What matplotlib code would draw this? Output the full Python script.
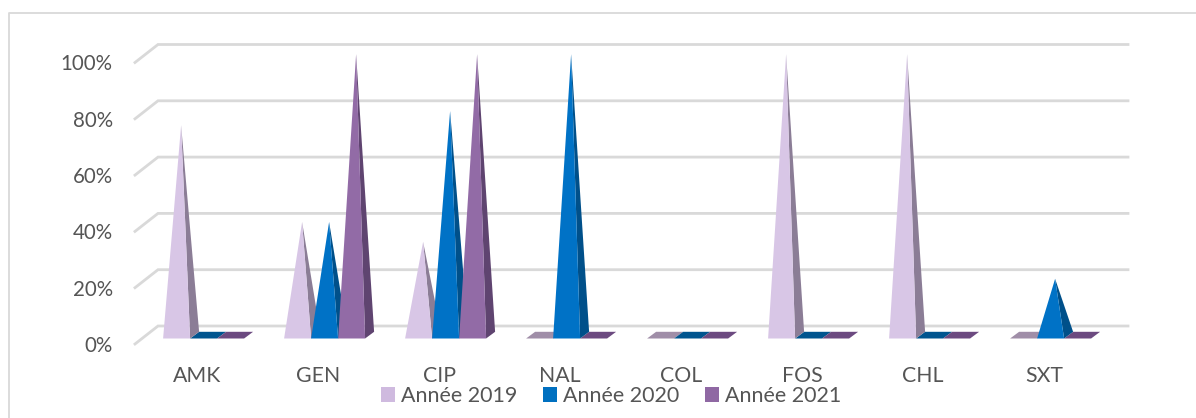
#!/usr/bin/env python

import matplotlib.pyplot as plt
from matplotlib.lines import Line2D
from matplotlib.patches import Patch

categories = ['AMK', 'GEN', 'CIP', 'NAL', 'COL', 'FOS', 'CHL', 'SXT']
years = ['Année 2019', 'Année 2020', 'Année 2021']
val_2019 = [75, 41, 34, 0, 0, 100, 100, 0]
val_2020 = [0, 41, 80, 100, 0, 0, 0, 21]
val_2021 = [0, 100, 100, 0, 0, 0, 0, 0]
yticks = [0, 20, 40, 60, 80, 100]

# front, side and flat (zero value) colours per series
front_cols = ['#d8c6e6', '#0072c6', '#926ba6']
side_cols = ['#8b7d96', '#00508a', '#5f4470']
flat_cols = ['#a08ea8', '#00558f', '#6c4a80']
grey = '#555555'
grid_col = '#d9d9d9'

W, H = 1196, 418
cm_x = 121.0    # pixels per category
cm_y = 2.815    # pixels per percent
bar_w = 27 / cm_x
dep_x = 9 / cm_x
dep_y = 6.7 / cm_y
base_y = 5.5 / cm_y
h_scale = 1.01
wall_x = 23 / cm_x
wall_y = 18 / cm_y


def pyramid(ax, x, val, col):
    left = x - bar_w / 2
    right = x + bar_w / 2
    if val == 0:
        ax.fill([left, right, right + dep_x, left + dep_x],
                [base_y, base_y, base_y + dep_y, base_y + dep_y],
                color=flat_cols[col], lw=0, zorder=3)
        return
    apex_x = x + dep_x / 2
    apex_y = base_y + val * h_scale
    ax.fill([right, right + dep_x, apex_x],
            [base_y, base_y + dep_y, apex_y],
            color=side_cols[col], lw=0, zorder=4)
    ax.fill([left, right, apex_x], [base_y, base_y, apex_y],
            color=front_cols[col], lw=0, zorder=4)


def main():
    fig = plt.figure(figsize=(W / 100, H / 100), dpi=100)
    plt.rcParams['font.family'] = 'Lato'

    # chart frame, open on the right and at the bottom
    fig.add_artist(Line2D([8.5 / W, 8.5 / W, 1], [0, 1 - 13 / H, 1 - 13 / H],
                          transform=fig.transFigure, color=grid_col, lw=1.3))

    left, right = 135, 1128
    bottom, top = 344, 40
    ax = fig.add_axes([left / W, 1 - bottom / H, (right - left) / W, (bottom - top) / H])
    ax.set_xlim((left - 203.6) / cm_x, (right - 203.6) / cm_x)
    ax.set_ylim(0, (bottom - top) / cm_y)
    ax.patch.set_visible(False)
    for s in ax.spines.values():
        s.set_visible(False)

    x0, x1 = ax.get_xlim()
    for g in yticks:
        ax.plot([x0, x0 + wall_x, x1], [g, g + wall_y, g + wall_y],
                color=grid_col, lw=2, zorder=1, clip_on=False, solid_joinstyle='miter')

    series = [val_2019, val_2020, val_2021]
    for i in range(len(categories)):
        # flat bases first so the pyramid sides lie over them
        for j, vals in enumerate(series):
            if vals[i] == 0:
                pyramid(ax, i + (j - 1) * bar_w, 0, j)
        for j, vals in enumerate(series):
            if vals[i] != 0:
                pyramid(ax, i + (j - 1) * bar_w, vals[i], j)

    ax.set_yticks(yticks)
    ax.set_yticklabels([f'{g}%' for g in yticks], fontsize=14.8, color=grey, family='Lato')
    ax.tick_params(axis='y', length=0, pad=16)
    ax.set_xticks([i - 6.5 / cm_x for i in range(len(categories))])
    ax.set_xticklabels(categories, fontsize=15.3, color=grey, family='Lato')
    ax.tick_params(axis='x', length=0, pad=16)

    handles = [Patch(facecolor=c, edgecolor='none') for c in ['#cfbadf', '#0070c0', '#8f68a3']]
    fig.legend(handles, years, ncols=3, loc='center', frameon=False,
               bbox_to_anchor=(611 / W, 1 - 396 / H), prop={'family': 'Lato', 'size': 15.4},
               labelcolor=grey, handlelength=0.65, handleheight=0.65,
               handletextpad=0.28, columnspacing=1.2, borderpad=0, borderaxespad=0)

    fig.savefig('out.png', dpi=100)


if __name__ == '__main__':
    main()
